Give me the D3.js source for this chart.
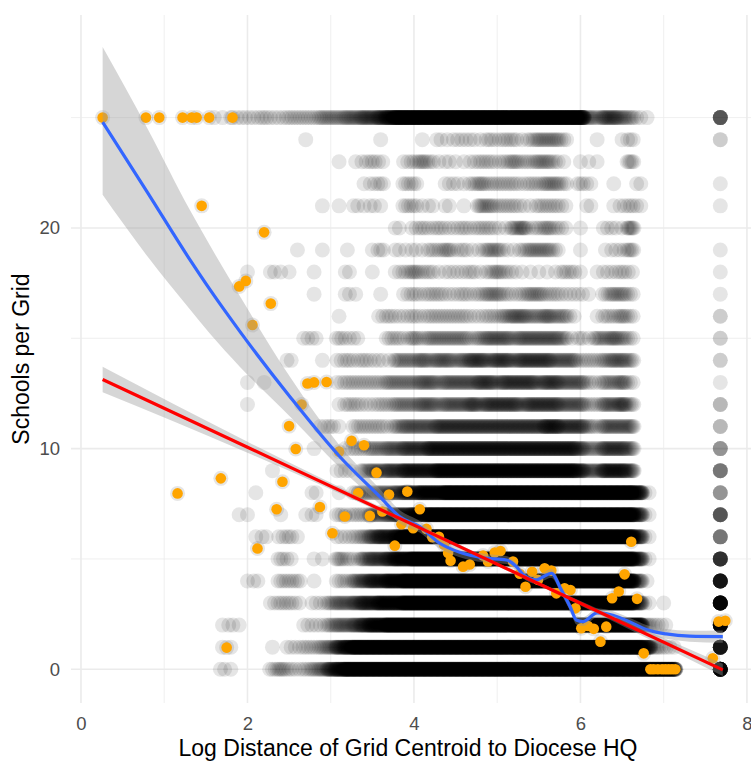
<!DOCTYPE html>
<html><head><meta charset="utf-8">
<script src="https://cdn.jsdelivr.net/npm/d3@7"></script>
<style>body{margin:0;background:#fff}</style>
</head><body>
<svg id="chart" width="751" height="761"></svg>
<script>
// ---- axis ticks ----
const xTicks = [0, 2, 4, 6, 8];
const xMinorTicks = [1, 3, 5, 7];
const yTicks = [0, 10, 20];
const yMinorTicks = [5, 15, 25];

// ---- gray point cloud: per row (Schools per Grid = 0..25), density of points
// in 0.1-wide bins of log distance starting at 1.6 ----
const binStart = 1.6;
const binStep = 0.1;
const rowDensity = [
  "0210000343|2345789999|9999999999|9999999999|9999999999|9999990",
  "0110000102|2334578999|9999999999|9999999999|9999999999|9984320",
  "0121000000|0222455678|8999999999|9999999999|9999999999|9943200",
  "0000000233|2022455677|8889999999|9999999999|9999999999|9720100",
  "0000120033|3010033567|7889999999|9999999999|9999999999|9610000",
  "0000000032|0011043256|6788999999|9999999999|9999999999|9720000",
  "0000012023|1000022346|7789999999|9999999999|9999999999|9720000",
  "0001100010|0120032335|5677889999|9999999999|9999999999|9720000",
  "0000010000|0020010344|5567788899|9999999999|9999999999|9820000",
  "0000000100|0000022045|5667777888|8888888888|8888755777|6000000",
  "0000000000|0010002334|4556667777|7777777777|7777644666|5000000",
  "0000000000|0002310333|3245555666|6666666666|7766643555|5000000",
  "0000100000|0000013322|3344455455|5656666566|6655533556|4000000",
  "0000101000|0000023333|3444455455|5566566665|6655532445|3000000",
  "0000000002|0001023232|2144454554|5665665666|6555333455|4000000",
  "0000000000|0220032200|0332434444|4345554555|5541314454|3000000",
  "0000000000|0000010000|2322323333|3223345544|5442001334|3000000",
  "0000000000|0010002100|1002323322|3234432344|3322210344|3000000",
  "0000100211|0010002001|0023433122|2313432111|1133101223|2000000",
  "0000000000|1001001001|3021213342|3124421344|4300100122|4000000",
  "0000000000|0000000000|0020232322|3233214523|4320100221|5000000",
  "0000000000|0001010212|1003312020|1044333213|3320020012|3200000",
  "0000000000|0000000012|3003300022|1343333233|4430320010|0200000",
  "0000000000|0000010123|2002343121|1233234334|4310111000|4000000",
  "0000000000|0100000000|1000010212|2213233134|4430001001|3000000",
  "1112223223|3334445566|7899999999|9999999999|9999954665|4210000"
];
const farColumnX = 7.68;
const farColumnDensity = [9,8,9,9,8,7,5,6,4,5,4,3,3,1,2,2,2,1,1,1,0,1,1,0,2,6];
const densityCounts = [0, 1, 2, 3, 5, 7, 10, 15, 22, 32];

// ---- highlighted (orange) grids ----
const orangeX = [0.26,0.78,0.94,1.22,1.33,1.39,1.54,1.82,1.45,2.20,1.98,1.90,2.28,2.06,
  2.72,2.80,2.95,2.65,2.50,2.58,3.10,3.25,3.40,3.55,1.68,2.42,1.16,2.35,2.87,2.12,
  3.02,3.17,3.33,3.47,3.62,3.70,3.92,4.07,3.77,3.85,3.99,4.15,4.22,4.30,4.36,4.41,
  4.44,4.59,4.67,4.83,4.89,4.97,5.04,5.19,5.27,5.42,5.34,5.49,5.57,5.65,5.71,5.81,
  5.88,5.94,6.01,6.09,6.16,6.31,6.24,6.38,6.46,6.53,6.61,6.68,6.76,6.84,6.88,6.93,
  6.98,7.02,7.06,7.10,7.14,7.59,7.66,7.74,1.75];
const orangeY = [25,25,25,25,25,25,25,25,21.0,19.8,17.6,17.35,16.57,15.6,
  12.95,13.0,13.02,12.0,11.02,9.98,9.86,10.35,10.15,8.91,8.65,8.5,7.97,7.25,7.35,5.47,
  6.16,6.92,7.98,6.95,7.15,7.92,8.05,7.25,5.6,6.57,6.39,6.36,5.98,6.0,5.65,5.27,
  4.92,4.65,4.75,5.15,4.88,5.29,5.36,4.88,4.33,4.42,3.74,4.05,4.58,4.47,3.44,3.67,
  3.59,2.76,1.86,1.96,1.83,1.93,1.25,3.22,3.52,4.3,5.78,3.19,0.72,0,0,0,
  0,0,0,0,0,0.5,2.16,2.2,0.98];

// ---- loess smooth (blue) with confidence band ----
const blueX  = [0.26,0.8,1.31,1.55,1.91,2.51,3.11,3.59,3.83,4.07,4.31,4.55,4.83,5.11,5.23,5.31,5.47,5.56,5.65,5.77,5.88,5.95,6.03,6.2,6.39,6.63,6.79,7.03,7.31,7.71];
const blueY  = [24.8,21.6,18.55,17.2,15.3,12.35,9.63,7.82,6.91,6.46,5.71,5.3,5.05,4.95,4.65,4.3,4.05,4.2,4.35,3.6,2.8,2.23,2.16,2.55,2.45,2.08,1.8,1.6,1.5,1.48];
const blueLo = [21.5,18.7,16.3,15.2,13.7,11.45,9.13,7.47,6.61,6.2,5.47,5.08,4.85,4.77,4.47,4.12,3.87,4.02,4.15,3.4,2.6,2.03,1.96,2.35,2.27,1.9,1.6,1.38,1.25,1.2];
const blueHi = [28.2,24.5,20.8,19.2,16.9,13.25,10.13,8.17,7.21,6.72,5.95,5.52,5.25,5.13,4.83,4.48,4.23,4.38,4.55,3.8,3.0,2.43,2.36,2.75,2.63,2.26,2.0,1.82,1.75,1.76];

// ---- linear fit (red) with confidence band ----
const redX  = [0.26, 2, 4, 5, 6, 7.71];
const redY  = [13.13, 10.06, 6.53, 4.76, 2.99, -0.03];
const redLo = [12.55, 9.81, 6.43, 4.68, 2.89, -0.31];
const redHi = [13.71, 10.31, 6.63, 4.84, 3.09, 0.25];

// ================= drawing =================
const W = 751, H = 761;
const svg = d3.select("#chart");
svg.append("rect").attr("width", W).attr("height", H).attr("fill", "#fff");

const panel = {left: 71, right: 753.6, top: 15, bottom: 703};
const x = d3.scaleLinear().domain([-0.12, 8.08]).range([panel.left, panel.right]);
const y = d3.scaleLinear().domain([-1.53, 29.65]).range([panel.bottom, panel.top]);

svg.append("clipPath").attr("id", "clip").append("rect")
  .attr("x", panel.left).attr("y", panel.top)
  .attr("width", panel.right - panel.left).attr("height", panel.bottom - panel.top);

// grid
const grid = svg.append("g");
grid.selectAll(".vminor").data(xMinorTicks).join("line")
  .attr("x1", d => x(d)).attr("x2", d => x(d)).attr("y1", panel.top).attr("y2", panel.bottom)
  .attr("stroke", "#EBEBEB").attr("stroke-width", 0.8);
grid.selectAll(".hminor").data(yMinorTicks).join("line")
  .attr("y1", d => y(d)).attr("y2", d => y(d)).attr("x1", panel.left).attr("x2", panel.right)
  .attr("stroke", "#EBEBEB").attr("stroke-width", 0.8);
grid.selectAll(".vmajor").data(xTicks).join("line")
  .attr("x1", d => x(d)).attr("x2", d => x(d)).attr("y1", panel.top).attr("y2", panel.bottom)
  .attr("stroke", "#EBEBEB").attr("stroke-width", 1.6);
grid.selectAll(".hmajor").data(yTicks).join("line")
  .attr("y1", d => y(d)).attr("y2", d => y(d)).attr("x1", panel.left).attr("x2", panel.right)
  .attr("stroke", "#EBEBEB").attr("stroke-width", 1.6);

// gray points: the points counted in a bin are laid out across that bin's width
const grayPts = [];
rowDensity.forEach((s, row) => {
  const chars = s.replace(/\|/g, "");
  for (let i = 0; i < chars.length; i++) {
    const n = densityCounts[+chars[i]];
    const x0 = binStart + i * binStep;
    for (let k = 0; k < n; k++) {
      const off = n === 1 ? 0 : ((k + 0.5) / n - 0.5) * binStep;
      grayPts.push([x0 + off, row]);
    }
  }
});
farColumnDensity.forEach((c, row) => {
  const n = densityCounts[c];
  for (let k = 0; k < n; k++) grayPts.push([farColumnX, row]);
});
orangeX.forEach((v, i) => grayPts.push([v, orangeY[i]]));

const plot = svg.append("g").attr("clip-path", "url(#clip)");
plot.append("g").selectAll("circle").data(grayPts).join("circle")
  .attr("cx", d => x(d[0])).attr("cy", d => y(d[1])).attr("r", 7.5)
  .attr("fill", "#000").attr("fill-opacity", 0.1);

// orange points
plot.append("g").selectAll("circle").data(orangeX.map((v, i) => [v, orangeY[i]])).join("circle")
  .attr("cx", d => x(d[0])).attr("cy", d => y(d[1])).attr("r", 5.3)
  .attr("fill", "#FFA500");

// blue loess
const blueData = blueX.map((v, i) => ({x: v, y: blueY[i], lo: blueLo[i], hi: blueHi[i]}));
plot.append("path").datum(blueData)
  .attr("d", d3.area().x(d => x(d.x)).y0(d => y(d.lo)).y1(d => y(d.hi)).curve(d3.curveMonotoneX))
  .attr("fill", "#999999").attr("fill-opacity", 0.4);
plot.append("path").datum(blueData)
  .attr("d", d3.line().x(d => x(d.x)).y(d => y(d.y)).curve(d3.curveMonotoneX))
  .attr("fill", "none").attr("stroke", "#3366FF").attr("stroke-width", 3.2);

// red linear fit
const redData = redX.map((v, i) => ({x: v, y: redY[i], lo: redLo[i], hi: redHi[i]}));
plot.append("path").datum(redData)
  .attr("d", d3.area().x(d => x(d.x)).y0(d => y(d.lo)).y1(d => y(d.hi)).curve(d3.curveMonotoneX))
  .attr("fill", "#999999").attr("fill-opacity", 0.4);
plot.append("path").datum(redData)
  .attr("d", d3.line().x(d => x(d.x)).y(d => y(d.y)).curve(d3.curveMonotoneX))
  .attr("fill", "none").attr("stroke", "#FF0000").attr("stroke-width", 3.2);

// axes
const font = "'Liberation Sans', Arial, Helvetica, sans-serif";
const xAxis = svg.append("g").attr("transform", `translate(0,${panel.bottom})`)
  .call(d3.axisBottom(x).tickValues(xTicks).tickSize(0).tickPadding(14).tickFormat(d3.format("d")));
xAxis.select(".domain").remove();
xAxis.selectAll("text").attr("fill", "#4D4D4D").attr("font-size", "18.5px").attr("font-family", font);

const yAxis = svg.append("g").attr("transform", `translate(${panel.left},0)`)
  .call(d3.axisLeft(y).tickValues(yTicks).tickSize(0).tickPadding(11).tickFormat(d3.format("d")));
yAxis.select(".domain").remove();
yAxis.selectAll("text").attr("fill", "#4D4D4D").attr("font-size", "18.5px").attr("font-family", font);

// titles
svg.append("text").attr("x", (panel.left + 745) / 2).attr("y", 756)
  .attr("text-anchor", "middle").attr("font-size", "23px").attr("font-family", font)
  .attr("fill", "#000").text("Log Distance of Grid Centroid to Diocese HQ");
svg.append("text").attr("transform", `translate(29,${(panel.top + panel.bottom) / 2}) rotate(-90)`)
  .attr("text-anchor", "middle").attr("font-size", "23px").attr("font-family", font)
  .attr("fill", "#000").text("Schools per Grid");
</script>
</body></html>
